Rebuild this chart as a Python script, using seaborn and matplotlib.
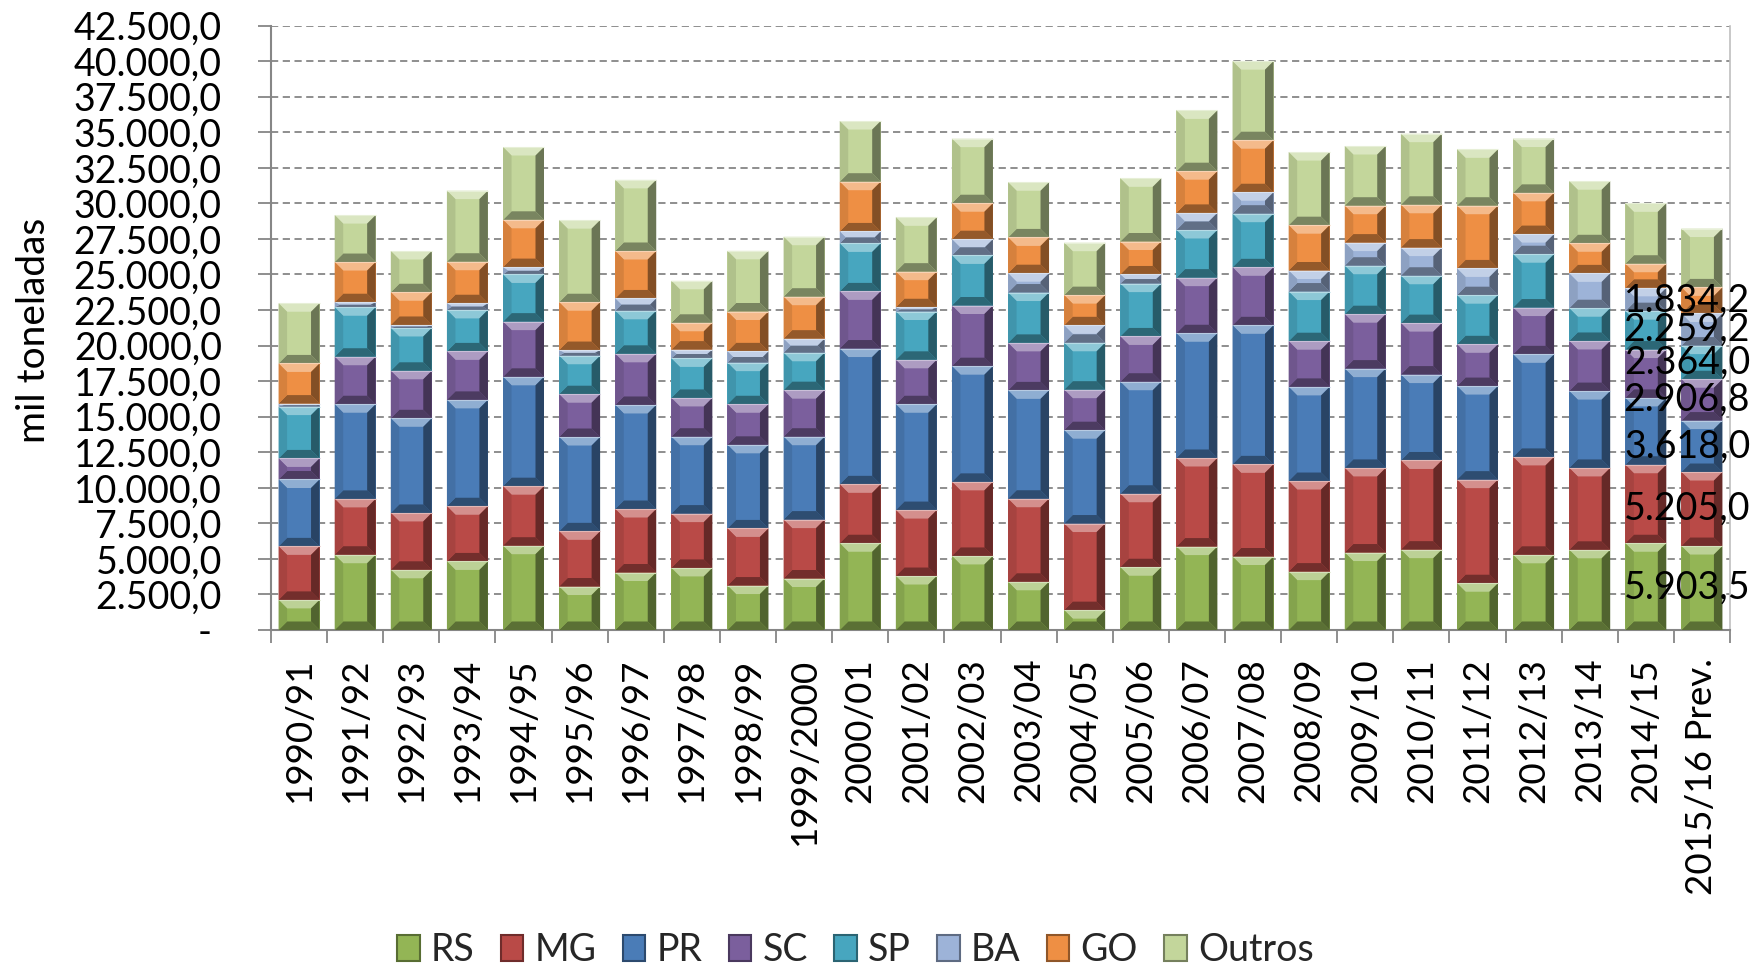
import numpy as np
import pandas as pd
import matplotlib
matplotlib.use("Agg")
import matplotlib.pyplot as plt
from matplotlib.patches import Polygon, Patch
from matplotlib.ticker import FuncFormatter, MultipleLocator, FixedLocator
import matplotlib.colors as mcolors
import seaborn as sns

# ---------------- data ----------------
seasons = ["1990/91", "1991/92", "1992/93", "1993/94", "1994/95", "1995/96", "1996/97",
           "1997/98", "1998/99", "1999/2000", "2000/01", "2001/02", "2002/03", "2003/04",
           "2004/05", "2005/06", "2006/07", "2007/08", "2008/09", "2009/10", "2010/11",
           "2011/12", "2012/13", "2013/14", "2014/15", "2015/16 Prev."]

RS = [2117, 5292, 4233, 4821, 5927, 3057, 4043, 4365, 3125, 3621, 6101, 3795, 5208,
      3390, 1397, 4413, 5866, 5168, 4106, 5447, 5650, 3289, 5287, 5639, 6100, 5903.5]
MG = [3763, 3927, 3998, 3881, 4186, 3881, 4464, 3820, 4018, 4142, 4142, 4638, 5209,
      5840, 6089, 5168, 6229, 6480, 6369, 5950, 6270, 7284, 6884, 5757, 5520, 5205.0]
PR = [4703, 6656, 6656, 7479, 7690, 6632, 7316, 5406, 5878, 5828, 9549, 7440, 8135,
      7620, 6564, 7877, 8771, 9777, 6620, 6983, 6040, 6579, 7213, 5404, 4700, 3618.0]
SC = [1482, 3340, 3340, 3410, 3881, 3010, 3597, 2728, 2852, 3274, 4018, 3125, 4265,
      3340, 2849, 3184, 3911, 4078, 3212, 3827, 3620, 2937, 3290, 3524, 3400, 2906.8]
SP = [3645, 3480, 3010, 2916, 3316, 2705, 3025, 2778, 2927, 2629, 3373, 3398, 3522,
      3540, 3297, 3716, 3351, 3771, 3492, 3408, 3330, 3454, 3750, 2303, 2700, 2364.0]
BA = [210, 353, 212, 470, 519, 400, 868, 620, 793, 992, 843, 298, 1141,
      1360, 1229, 642, 1202, 1508, 1480, 1626, 1980, 1882, 1415, 2450, 1640, 2259.2]
GO = [2824, 2825, 2301, 2919, 3325, 3363, 3338, 1885, 2803, 2951, 3497, 2504, 2530,
      2515, 2122, 2318, 2933, 3659, 3187, 2594, 3010, 4410, 2900, 2116, 1695, 1834.2]
Outros = [4233, 3302, 2900, 5000, 5118, 5773, 5000, 2952, 4266, 4217, 4266, 3820, 4539,
          3880, 3688, 4442, 4273, 5559, 5141, 4198, 5000, 3962, 3820, 4364, 4245, 4140]

series_names = ["RS", "MG", "PR", "SC", "SP", "BA", "GO", "Outros"]
series_values = [RS, MG, PR, SC, SP, BA, GO, Outros]
series_colors = ["#93B555", "#B94A47", "#4A7CB7", "#7B5F9D", "#47A6BF", "#9DB3D8",
                 "#EE8F44", "#C3D69B"]
labelled_bar = len(seasons) - 1  # data labels shown on the last bar


def pt_br(v):
    if v == 0:
        return "- "
    s = f"{v:,.1f}"
    return s.replace(",", "X").replace(".", ",").replace("X", ".")


def mix(c, other, t):
    a = np.array(mcolors.to_rgb(c))
    b = np.array(mcolors.to_rgb(other))
    return tuple(a * (1 - t) + b * t)


# ---------------- figure ----------------
sns.set_theme(style="white")
plt.rcParams["font.family"] = ["Lato", "DejaVu Sans"]

W, H, DPI = 1754, 969, 100
fig = plt.figure(figsize=(W / DPI, H / DPI), dpi=DPI)
ax_l, ax_r, ax_b, ax_t = 271, 1730, 630, 25.6
ax = fig.add_axes([ax_l / W, 1 - ax_b / H, (ax_r - ax_l) / W, (ax_b - ax_t) / H])

vals = np.array(series_values, dtype=float)
cum = np.cumsum(vals, axis=0)
bottoms = np.vstack([np.zeros(vals.shape[1]), cum[:-1]])

containers = {}
for i in reversed(range(len(series_names))):
    df = pd.DataFrame({"season": seasons, "top": cum[i]})
    sns.barplot(data=df, x="season", y="top", order=seasons, color=series_colors[i],
                saturation=1, width=0.73, errorbar=None, ax=ax, edgecolor="none",
                linewidth=0, zorder=2)
    containers[i] = ax.containers[-1]

ax.set_xlim(-0.5, len(seasons) - 0.5)
ax.set_ylim(0, 42500)

# bevel effect on each segment
px_x = (ax_r - ax_l) / len(seasons)
px_y = (ax_b - ax_t) / 42500
bev = 8.5
bx, by = bev / px_x, bev / px_y
for i in range(len(series_names)):
    c = series_colors[i]
    ctop, cbot = mix(c, "white", 0.38), mix(c, "black", 0.38)
    cleft, cright = mix(c, "black", 0.10), mix(c, "black", 0.45)
    for j, patch in enumerate(containers[i].patches):
        x0 = patch.get_x()
        w = patch.get_width()
        x1 = x0 + w
        y0, y1 = bottoms[i][j], cum[i][j]
        h = y1 - y0
        dy = min(by, h / 2)
        dx = min(bx, w / 2) * (dy / by if dy < by else 1)
        dx = max(dx, min(bx, w / 2) * 0.6)
        polys = [
            ([(x0, y1), (x1, y1), (x1 - dx, y1 - dy), (x0 + dx, y1 - dy)], ctop),
            ([(x0, y0), (x1, y0), (x1 - dx, y0 + dy), (x0 + dx, y0 + dy)], cbot),
            ([(x0, y0), (x0 + dx, y0 + dy), (x0 + dx, y1 - dy), (x0, y1)], cleft),
            ([(x1, y0), (x1 - dx, y0 + dy), (x1 - dx, y1 - dy), (x1, y1)], cright),
        ]
        for pts, col in polys:
            ax.add_patch(Polygon(pts, closed=True, facecolor=col, edgecolor="none",
                                 zorder=3))
        ax.plot([x0, x1], [y1, y1], color=mix(c, "white", 0.6), lw=0.8, zorder=4,
                solid_capstyle="butt")

# axes styling
gray = "#868686"
ax.set_axisbelow(True)
ax.yaxis.set_major_locator(MultipleLocator(2500))
ax.yaxis.set_major_formatter(FuncFormatter(lambda v, p: pt_br(v)))
ax.grid(axis="y", color=gray, linestyle=(0, (4, 2.5)), linewidth=1.3, zorder=0)
ax.grid(axis="x", visible=False)
for side in ["left", "bottom"]:
    ax.spines[side].set_color(gray)
    ax.spines[side].set_linewidth(1.5)
ax.spines["right"].set_color("#BFBFBF")
ax.spines["right"].set_linewidth(1.2)
ax.spines["top"].set_visible(False)

ax.tick_params(axis="y", which="major", direction="out", length=9.4, width=1.3,
               color=gray, pad=26, labelsize=27, labelcolor="black", left=True)
ax.xaxis.set_minor_locator(FixedLocator(np.arange(-0.5, len(seasons), 1.0)))
ax.tick_params(axis="x", which="minor", direction="out", length=9, width=1.3,
               color=gray, bottom=True)
ax.tick_params(axis="x", which="major", length=0, pad=20, labelsize=26.5,
               labelrotation=90, labelcolor="black")
ax.set_xlabel("")
ax.set_ylabel("")

fig.text(34 / W, 1 - 330 / H, "mil toneladas", rotation=90, ha="center", va="center",
         fontsize=28, color="black")

# data labels on the last bar
for i in range(len(series_names) - 1):
    yc = (bottoms[i][labelled_bar] + cum[i][labelled_bar]) / 2
    ax.text(labelled_bar + 0.86, yc, pt_br(vals[i][labelled_bar]), ha="right",
            va="center", fontsize=27, color="black", zorder=6, clip_on=False)

# legend
handles = [Patch(facecolor=c, edgecolor=mix(c, "black", 0.4), linewidth=1.5)
           for c in series_colors]
fig.legend(handles, series_names, loc="lower center", ncol=len(series_names),
           frameon=False, fontsize=27, bbox_to_anchor=(0.4877, -0.003),
           handlelength=0.6, handleheight=0.7, handletextpad=0.3,
           columnspacing=0.7, borderpad=0.1, borderaxespad=0)

fig.savefig("out.png", dpi=DPI)
